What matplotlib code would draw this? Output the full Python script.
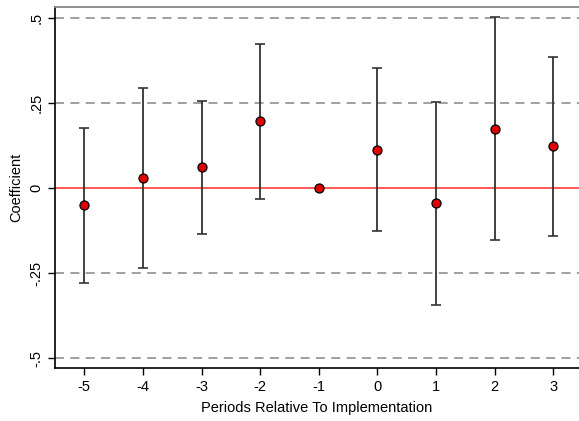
import matplotlib
matplotlib.use("Agg")
import matplotlib.pyplot as plt
import numpy as np

plt.rcParams['font.family'] = ['Liberation Sans', 'DejaVu Sans']

periods = [-5, -4, -3, -2, -1, 0, 1, 2, 3]
coef = [-0.05, 0.03, 0.062, 0.197, 0.0, 0.113, -0.045, 0.175, 0.123]
upper = [0.176, 0.294, 0.257, 0.425, 0.0, 0.352, 0.253, 0.503, 0.385]
lower = [-0.278, -0.235, -0.135, -0.033, 0.0, -0.127, -0.343, -0.152, -0.141]
yticks = [-0.5, -0.25, 0, 0.25, 0.5]
ylabels = ['-.5', '-.25', '0', '.25', '.5']

fig = plt.figure(figsize=(5.79, 4.21), dpi=100)
ax = fig.add_axes([0.095, 0.126, 0.905, 0.857])

for yv in [-0.5, -0.25, 0.25, 0.5]:
    ax.axhline(yv, color='#999999', lw=1.3, ls=(0, (5, 3.5)), zorder=1)
ax.axhline(0, color='#ff3b3b', lw=1.2, zorder=1)

c = np.array(coef)
err = [c - np.array(lower), np.array(upper) - c]
mask = np.array(upper) != np.array(lower)
ax.errorbar(np.array(periods)[mask], c[mask],
            yerr=[err[0][mask], err[1][mask]],
            fmt='none', ecolor='#333333', elinewidth=1.3, capsize=3.5, capthick=1.2, zorder=2)
ax.plot(periods, coef, 'o', ms=6.5, mfc='#e00000', mec='black', mew=0.9, zorder=3)

ax.set_xlim(-5.5, 3.44)
ax.set_ylim(-0.529, 0.532)
ax.set_xticks(periods)
ax.set_xticklabels([str(p) for p in periods], fontsize=10.5)
ax.set_yticks(yticks)
ax.set_yticklabels(ylabels, fontsize=10.5, rotation=90, va='center')
ax.tick_params(direction='out', length=5, width=1, colors='black')
ax.spines['right'].set_visible(False)
ax.spines['top'].set_color('#888888')
ax.spines['top'].set_linewidth(1.3)
ax.spines['left'].set_linewidth(1.2)
ax.spines['bottom'].set_linewidth(1.2)

ax.set_xlabel('Periods Relative To Implementation', fontsize=10.5, labelpad=5)
ax.set_ylabel('Coefficient', fontsize=10.5, labelpad=4)

fig.savefig('out.png', dpi=100)
